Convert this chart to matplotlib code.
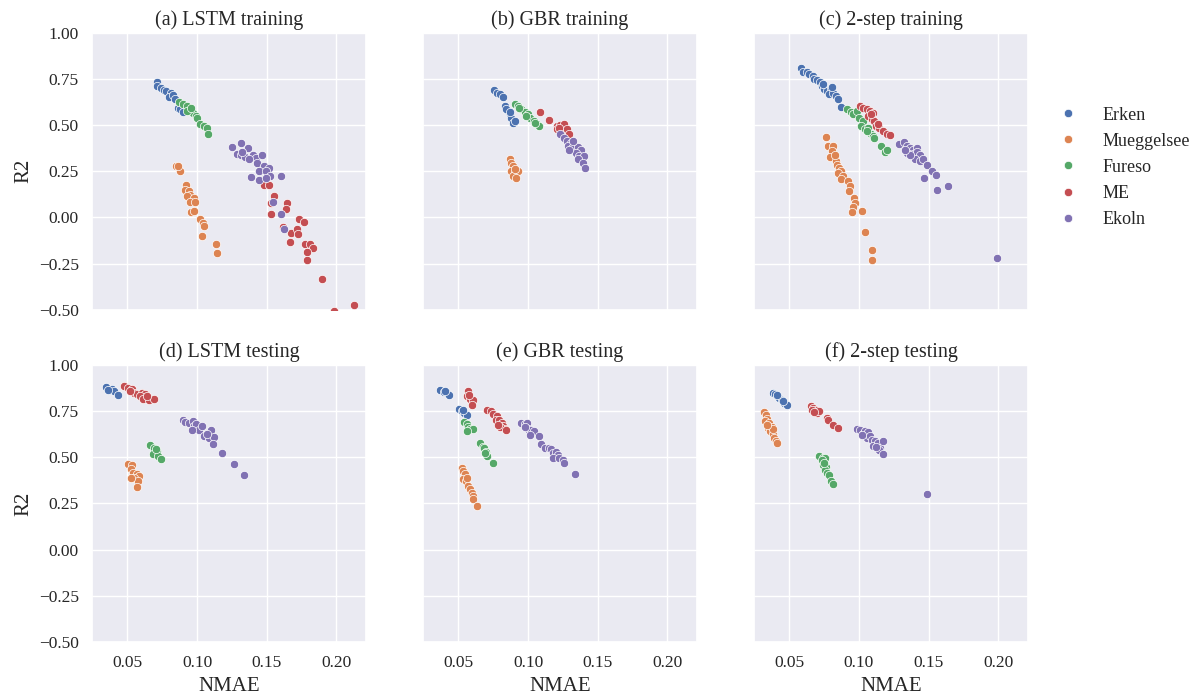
import matplotlib
matplotlib.use("Agg")
import matplotlib.pyplot as plt
from matplotlib.lines import Line2D
import seaborn as sns

lakes = ["Erken", "Mueggelsee", "Fureso", "ME", "Ekoln"]
titles = ["(a) LSTM training", "(b) GBR training", "(c) 2-step training",
          "(d) LSTM testing", "(e) GBR testing", "(f) 2-step testing"]

# (a) LSTM training
a_erken_nmae = [0.071, 0.071, 0.074, 0.076, 0.078, 0.081, 0.080, 0.083, 0.084, 0.086, 0.088, 0.090]
a_erken_r2 = [0.732, 0.714, 0.700, 0.690, 0.683, 0.677, 0.650, 0.664, 0.640, 0.595, 0.586, 0.574]
a_mueg_nmae = [0.085, 0.0875, 0.086, 0.092, 0.091, 0.094, 0.095, 0.093, 0.0976, 0.0947, 0.0988, 0.0957,
               0.098, 0.1024, 0.1043, 0.1053, 0.1034, 0.1133, 0.114]
a_mueg_r2 = [0.281, 0.254, 0.277, 0.177, 0.150, 0.141, 0.123, 0.114, 0.105, 0.086, 0.083, 0.032,
             0.035, -0.008, -0.032, -0.045, -0.099, -0.143, -0.190]
a_fureso_nmae = [0.087, 0.090, 0.093, 0.095, 0.097, 0.099, 0.100, 0.102, 0.105, 0.107, 0.108, 0.093, 0.096]
a_fureso_r2 = [0.623, 0.614, 0.605, 0.577, 0.568, 0.550, 0.537, 0.505, 0.495, 0.486, 0.450, 0.577, 0.592]
a_me_nmae = [0.1483, 0.152, 0.155, 0.153, 0.153, 0.1647, 0.164, 0.1616, 0.1676, 0.1671, 0.172, 0.173,
             0.1768, 0.1725, 0.1778, 0.1812, 0.1833, 0.1792, 0.179, 0.1894, 0.213, 0.1986]
a_me_r2 = [0.177, 0.174, 0.114, 0.077, 0.017, 0.077, 0.046, -0.050, -0.086, -0.132, -0.063, -0.008,
           -0.026, -0.092, -0.146, -0.143, -0.165, -0.186, -0.228, -0.335, -0.474, -0.505]
a_ekoln_nmae = [0.125, 0.1314, 0.129, 0.1317, 0.1343, 0.1367, 0.1399, 0.1423, 0.1374, 0.143, 0.1464, 0.1478,
                0.152, 0.1447, 0.1495, 0.1527, 0.1386, 0.1447, 0.1495, 0.160, 0.160, 0.1623, 0.1543, 0.1326]
a_ekoln_r2 = [0.383, 0.405, 0.345, 0.337, 0.326, 0.374, 0.341, 0.323, 0.314, 0.295, 0.337, 0.277,
              0.268, 0.250, 0.250, 0.223, 0.219, 0.205, 0.214, 0.226, 0.017, -0.063, 0.083, 0.356]

# (b) GBR training
b_erken_nmae = [0.0755, 0.0779, 0.0798, 0.0817, 0.0833, 0.0857, 0.0869, 0.0881, 0.0893, 0.0845, 0.0874, 0.0905]
b_erken_r2 = [0.690, 0.677, 0.668, 0.654, 0.605, 0.577, 0.559, 0.537, 0.514, 0.586, 0.574, 0.523]
b_mueg_nmae = [0.0869, 0.0881, 0.0893, 0.0881, 0.0905, 0.0929, 0.0893, 0.0917, 0.0905]
b_mueg_r2 = [0.314, 0.295, 0.277, 0.250, 0.241, 0.250, 0.223, 0.214, 0.264]
b_fureso_nmae = [0.0905, 0.0929, 0.0952, 0.0976, 0.100, 0.1017, 0.104, 0.1064, 0.1079, 0.0988, 0.0936, 0.1048]
b_fureso_r2 = [0.617, 0.605, 0.586, 0.572, 0.559, 0.537, 0.523, 0.505, 0.494, 0.550, 0.595, 0.514]
b_me_nmae = [0.1088, 0.115, 0.1207, 0.1231, 0.1255, 0.1207, 0.1245, 0.1279, 0.1298, 0.1226]
b_me_r2 = [0.572, 0.530, 0.495, 0.500, 0.505, 0.477, 0.468, 0.477, 0.450, 0.483]
b_ekoln_nmae = [0.1231, 0.1262, 0.1279, 0.131, 0.1333, 0.1286, 0.1317, 0.1357, 0.1381, 0.1345, 0.1369,
                0.1405, 0.1357, 0.1393, 0.1412, 0.1293, 0.1321]
b_ekoln_r2 = [0.450, 0.432, 0.414, 0.405, 0.395, 0.386, 0.374, 0.381, 0.368, 0.350, 0.332,
              0.332, 0.314, 0.295, 0.268, 0.368, 0.414]

# (c) 2-step training
c_erken_nmae = [0.0581, 0.060, 0.0624, 0.0644, 0.0667, 0.0677, 0.0701, 0.072, 0.0732, 0.0749, 0.0768,
                0.0797, 0.0787, 0.0816, 0.0835, 0.0852, 0.0868, 0.0804, 0.0744]
c_erken_r2 = [0.810, 0.786, 0.786, 0.777, 0.768, 0.750, 0.745, 0.732, 0.714, 0.695, 0.686,
              0.695, 0.668, 0.672, 0.659, 0.641, 0.599, 0.705, 0.723]
c_mueg_nmae = [0.0763, 0.078, 0.0811, 0.0804, 0.0792, 0.0835, 0.0844, 0.0859, 0.0868, 0.0852, 0.0883, 0.0868,
               0.0923, 0.0935, 0.0926, 0.0964, 0.0971, 0.0955, 0.0947, 0.1019, 0.1043, 0.1091, 0.1091, 0.0828]
c_mueg_r2 = [0.435, 0.386, 0.386, 0.359, 0.326, 0.305, 0.283, 0.268, 0.250, 0.241, 0.223, 0.210,
             0.195, 0.168, 0.141, 0.105, 0.077, 0.054, 0.032, 0.037, -0.077, -0.179, -0.232, 0.341]
c_fureso_nmae = [0.0911, 0.094, 0.0959, 0.0983, 0.1002, 0.1026, 0.1012, 0.1043, 0.1067, 0.1084, 0.1098,
                 0.1108, 0.1156, 0.1187, 0.1199, 0.1055]
c_fureso_r2 = [0.586, 0.574, 0.563, 0.577, 0.537, 0.523, 0.495, 0.477, 0.486, 0.450, 0.441,
               0.428, 0.386, 0.355, 0.368, 0.468]
c_me_nmae = [0.1007, 0.1031, 0.1055, 0.1079, 0.1098, 0.1067, 0.1091, 0.1108, 0.1122, 0.1146, 0.1175,
             0.1199, 0.1222, 0.1139, 0.1084]
c_me_r2 = [0.605, 0.595, 0.586, 0.577, 0.568, 0.550, 0.532, 0.523, 0.495, 0.483, 0.468,
           0.454, 0.446, 0.505, 0.559]
c_ekoln_nmae = [0.1289, 0.1323, 0.1342, 0.1366, 0.139, 0.1414, 0.1347, 0.1385, 0.1419, 0.1438, 0.1402,
                0.1438, 0.1462, 0.149, 0.1522, 0.1553, 0.1467, 0.1557, 0.1641, 0.1993, 0.1366, 0.133]
c_ekoln_r2 = [0.399, 0.410, 0.386, 0.377, 0.368, 0.374, 0.350, 0.345, 0.355, 0.337, 0.314,
              0.305, 0.314, 0.286, 0.250, 0.232, 0.214, 0.150, 0.168, -0.219, 0.337, 0.368]

# (d) LSTM testing
d_erken_nmae = [0.0348, 0.0372, 0.0389, 0.0403, 0.0432, 0.036]
d_erken_r2 = [0.879, 0.867, 0.872, 0.858, 0.840, 0.867]
d_mueg_nmae = [0.0505, 0.0534, 0.0524, 0.0541, 0.0565, 0.0582, 0.0548, 0.0577, 0.0565, 0.0529]
d_mueg_r2 = [0.466, 0.459, 0.435, 0.417, 0.412, 0.399, 0.387, 0.372, 0.340, 0.390]
d_fureso_nmae = [0.0662, 0.0693, 0.071, 0.0686, 0.0722, 0.0742, 0.0703]
d_fureso_r2 = [0.567, 0.552, 0.534, 0.516, 0.507, 0.489, 0.543]
d_me_nmae = [0.0476, 0.0505, 0.0534, 0.0548, 0.0572, 0.0606, 0.0626, 0.0589, 0.0614, 0.0655, 0.0693,
             0.0517, 0.0638]
d_me_r2 = [0.888, 0.876, 0.871, 0.849, 0.844, 0.849, 0.844, 0.831, 0.818, 0.813, 0.818, 0.862, 0.831]
d_ekoln_nmae = [0.0896, 0.0915, 0.0944, 0.0969, 0.0976, 0.0993, 0.1012, 0.1036, 0.1048, 0.1085, 0.1097,
                0.1121, 0.1114, 0.1176, 0.1266, 0.1338, 0.0964, 0.1072]
d_ekoln_r2 = [0.705, 0.692, 0.687, 0.696, 0.669, 0.682, 0.646, 0.669, 0.615, 0.603, 0.646,
              0.610, 0.570, 0.525, 0.462, 0.405, 0.646, 0.624]

# (e) GBR testing
e_erken_nmae = [0.0369, 0.0393, 0.0417, 0.0436, 0.0507, 0.0524, 0.054, 0.056, 0.0531, 0.0405]
e_erken_r2 = [0.867, 0.854, 0.849, 0.836, 0.764, 0.750, 0.741, 0.728, 0.759, 0.858]
e_mueg_nmae = [0.0524, 0.0536, 0.0548, 0.0531, 0.0555, 0.0571, 0.0583, 0.0595, 0.0607, 0.0602, 0.0636, 0.0564]
e_mueg_r2 = [0.444, 0.426, 0.408, 0.381, 0.372, 0.345, 0.327, 0.309, 0.291, 0.273, 0.237, 0.390]
e_fureso_nmae = [0.054, 0.0564, 0.0571, 0.0583, 0.0602, 0.056, 0.0655, 0.0674, 0.0683, 0.0698, 0.0707,
                 0.075, 0.069]
e_fureso_r2 = [0.692, 0.682, 0.664, 0.656, 0.651, 0.642, 0.580, 0.557, 0.548, 0.530, 0.507, 0.471, 0.521]
e_me_nmae = [0.0571, 0.0564, 0.0583, 0.0607, 0.0595, 0.0579, 0.0707, 0.0731, 0.075, 0.0774, 0.0769, 0.0793,
             0.081, 0.0821, 0.0833, 0.0802, 0.0845, 0.0786]
e_me_r2 = [0.858, 0.831, 0.818, 0.813, 0.786, 0.840, 0.759, 0.750, 0.736, 0.723, 0.705, 0.700,
           0.687, 0.669, 0.651, 0.664, 0.646, 0.678]
e_ekoln_nmae = [0.0952, 0.0976, 0.0993, 0.100, 0.1024, 0.104, 0.1017, 0.1079, 0.1095, 0.1119, 0.115, 0.1167,
                0.1179, 0.1198, 0.1214, 0.1183, 0.1226, 0.125, 0.1262, 0.134, 0.0976]
e_ekoln_r2 = [0.687, 0.682, 0.687, 0.656, 0.646, 0.642, 0.620, 0.617, 0.570, 0.549, 0.552, 0.545,
              0.521, 0.530, 0.513, 0.498, 0.495, 0.486, 0.468, 0.409, 0.664]

# (f) 2-step testing
f_erken_nmae = [0.038, 0.0397, 0.0414, 0.0428, 0.0445, 0.0462, 0.0481, 0.0409, 0.0452]
f_erken_r2 = [0.849, 0.844, 0.831, 0.822, 0.813, 0.795, 0.786, 0.836, 0.804]
f_mueg_nmae = [0.0318, 0.0333, 0.0342, 0.0325, 0.0356, 0.0349, 0.0373, 0.0361, 0.038, 0.039, 0.0404,
               0.0414, 0.0385, 0.0337]
f_mueg_r2 = [0.746, 0.728, 0.710, 0.696, 0.687, 0.660, 0.664, 0.642, 0.624, 0.603, 0.588,
             0.579, 0.651, 0.678]
f_fureso_nmae = [0.0715, 0.0739, 0.0756, 0.0732, 0.0744, 0.0763, 0.0756, 0.0773, 0.0787, 0.0797, 0.0816, 0.0749]
f_fureso_r2 = [0.507, 0.498, 0.494, 0.483, 0.458, 0.447, 0.430, 0.417, 0.404, 0.372, 0.358, 0.471]
f_me_nmae = [0.0653, 0.0672, 0.0691, 0.066, 0.0701, 0.0715, 0.0773, 0.078, 0.0816, 0.0852, 0.0677]
f_me_r2 = [0.777, 0.768, 0.759, 0.754, 0.741, 0.750, 0.714, 0.700, 0.678, 0.660, 0.746]
f_ekoln_nmae = [0.0983, 0.1007, 0.1026, 0.1043, 0.1067, 0.1055, 0.1079, 0.1091, 0.1115, 0.1098, 0.1139,
                0.1151, 0.1175, 0.1146, 0.117, 0.1019, 0.1122, 0.149]
f_ekoln_r2 = [0.651, 0.646, 0.628, 0.642, 0.638, 0.606, 0.615, 0.592, 0.588, 0.563, 0.579,
              0.552, 0.588, 0.538, 0.516, 0.620, 0.556, 0.299]

panels = [
    [(a_erken_nmae, a_erken_r2), (a_mueg_nmae, a_mueg_r2), (a_fureso_nmae, a_fureso_r2),
     (a_me_nmae, a_me_r2), (a_ekoln_nmae, a_ekoln_r2)],
    [(b_erken_nmae, b_erken_r2), (b_mueg_nmae, b_mueg_r2), (b_fureso_nmae, b_fureso_r2),
     (b_me_nmae, b_me_r2), (b_ekoln_nmae, b_ekoln_r2)],
    [(c_erken_nmae, c_erken_r2), (c_mueg_nmae, c_mueg_r2), (c_fureso_nmae, c_fureso_r2),
     (c_me_nmae, c_me_r2), (c_ekoln_nmae, c_ekoln_r2)],
    [(d_erken_nmae, d_erken_r2), (d_mueg_nmae, d_mueg_r2), (d_fureso_nmae, d_fureso_r2),
     (d_me_nmae, d_me_r2), (d_ekoln_nmae, d_ekoln_r2)],
    [(e_erken_nmae, e_erken_r2), (e_mueg_nmae, e_mueg_r2), (e_fureso_nmae, e_fureso_r2),
     (e_me_nmae, e_me_r2), (e_ekoln_nmae, e_ekoln_r2)],
    [(f_erken_nmae, f_erken_r2), (f_mueg_nmae, f_mueg_r2), (f_fureso_nmae, f_fureso_r2),
     (f_me_nmae, f_me_r2), (f_ekoln_nmae, f_ekoln_r2)],
]

sns.set_theme(style="darkgrid")
plt.rcParams["font.family"] = ["Liberation Serif", "DejaVu Serif"]
colors = sns.color_palette("deep", 5)

fig, axes = plt.subplots(2, 3, figsize=(11.96, 7), dpi=100, sharex=True, sharey=True)
fig.subplots_adjust(left=0.077, right=0.8595, top=0.953, bottom=0.083, wspace=0.208, hspace=0.2)

for ax, title, groups in zip(axes.flat, titles, panels):
    for (x, y), c in zip(groups, colors):
        ax.scatter(x, y, s=36, color=c, edgecolor="white", linewidth=0.5, zorder=3)
    ax.set_title(title, fontsize=14.5)
    ax.tick_params(labelsize=12.5)

axes[0, 0].set_xlim(0.0246, 0.2214)
axes[0, 0].set_ylim(-0.5, 1.0)
axes[0, 0].set_xticks([0.05, 0.10, 0.15, 0.20])
axes[0, 0].set_yticks([-0.5, -0.25, 0.0, 0.25, 0.5, 0.75, 1.0])
for ax in axes[1]:
    ax.set_xlabel("NMAE", fontsize=15)
for ax in axes[:, 0]:
    ax.set_ylabel("R2", fontsize=15)

# lake legend to the right of the top row
handles = [Line2D([], [], marker="o", linestyle="", markersize=6, markerfacecolor=c,
                  markeredgecolor="white", markeredgewidth=0.5) for c in colors]
fig.legend(handles, lakes, loc="center left", bbox_to_anchor=(0.8646, 0.761), frameon=False,
           fontsize=13, handletextpad=0.87, labelspacing=0.5)

fig.savefig("out.png", dpi=100)
